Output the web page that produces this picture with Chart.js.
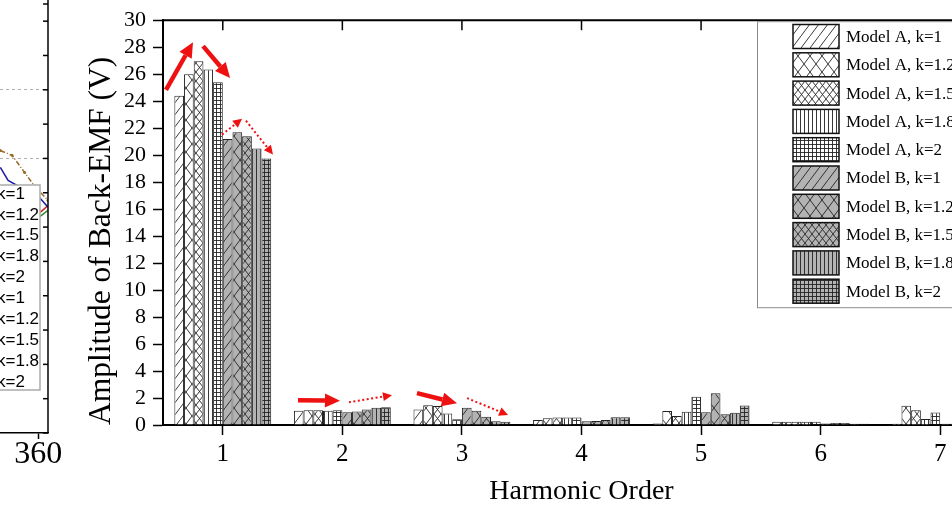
<!DOCTYPE html>
<html>
<head>
<meta charset="utf-8">
<script src="https://cdn.jsdelivr.net/npm/chart.js@4.4.0/dist/chart.umd.min.js"></script>
<style>
  html, body { margin: 0; padding: 0; background: #fff; overflow: hidden; }
  #wrap { position: relative; width: 952px; height: 518px; overflow: hidden; }
  #left { position: absolute; left: -352px; top: 0; }
  #main { position: absolute; left: 0; top: 0; }
</style>
</head>
<body>
<div id="wrap">
  <canvas id="left" width="440" height="518"></canvas>
  <canvas id="main" width="1000" height="518"></canvas>
</div>
<script>
// DATA
const harmonics = ['1', '2', '3', '4', '5', '6', '7'];
const kValues = ['1', '1.2', '1.5', '1.8', '2'];
const yTicks = { min: 0, max: 30, step: 2 };

// amplitude (V) per harmonic, one row per k
const modelA = [
  [24.4, 1.05, 1.15, 0.37, 0.12, 0.25, 0.10],
  [26.0, 1.10, 1.47, 0.50, 1.03, 0.25, 1.42],
  [26.95, 1.10, 1.40, 0.55, 0.66, 0.25, 1.10],
  [26.35, 1.05, 0.86, 0.55, 0.98, 0.25, 0.44],
  [25.4, 1.10, 0.42, 0.55, 2.09, 0.25, 0.93]
];
const modelB = [
  [21.2, 0.95, 1.28, 0.27, 0.95, 0.12, 0.10],
  [21.7, 1.00, 1.05, 0.30, 2.35, 0.15, 0.10],
  [21.4, 1.15, 0.61, 0.37, 0.80, 0.15, 0.10],
  [20.5, 1.28, 0.27, 0.57, 0.90, 0.10, 0.10],
  [19.75, 1.32, 0.25, 0.57, 1.45, 0.10, 0.10]
];

// trend arrows, in (harmonic, volts)
const arrows = [
  { from: [0.525, 24.83], to: [0.751, 28.37], dotted: false },
  { from: [0.835, 28.08], to: [1.061, 25.72], dotted: false },
  { from: [0.994, 21.52], to: [1.161, 22.70], dotted: true },
  { from: [1.194, 22.55], to: [1.420, 20.04], dotted: true },
  { from: [1.629, 1.84], to: [1.980, 1.79], dotted: false },
  { from: [2.055, 1.69], to: [2.415, 2.21], dotted: true },
  { from: [2.624, 2.36], to: [2.959, 1.62], dotted: false },
  { from: [3.043, 1.99], to: [3.386, 0.74], dotted: true }
];

// neighbouring figure (only its right edge is in view)
const leftLabels = ['k=1', 'k=1.2', 'k=1.5', 'k=1.8', 'k=2', 'k=1', 'k=1.2', 'k=1.5', 'k=1.8', 'k=2'];
const leftBlue = [[321, 7.74], [329, 7.36], [362, 6.84], [370, 6.58]];
const leftBrown = [[321, 8.23], [333, 8.09], [346, 7.59], [356, 7.2], [370, 6.78]];
const leftRed = [[362, 6.43], [370, 6.63]];
const leftGreen = [[362, 6.31], [370, 6.49]];

const SERIF = 'Liberation Serif';
const patterns = ['diag', 'cross', 'dcross', 'vert', 'grid'];
const GRAY = '#b3b3b3';

function makePattern(kind, bg) {
  const sizes = { diag: [9, 12], cross: [12, 16], dcross: [7, 9], vert: [4, 4], grid: [4, 4] };
  const [w, h] = sizes[kind];
  const c = document.createElement('canvas');
  c.width = w; c.height = h;
  const g = c.getContext('2d');
  g.fillStyle = bg;
  g.fillRect(0, 0, w, h);
  g.strokeStyle = '#222';
  g.lineWidth = 0.9;
  g.beginPath();
  if (kind === 'diag' || kind === 'cross' || kind === 'dcross') {
    g.moveTo(0, h); g.lineTo(w, 0);
  }
  if (kind === 'cross' || kind === 'dcross') {
    g.moveTo(0, 0); g.lineTo(w, h);
  }
  if (kind === 'vert' || kind === 'grid') {
    g.moveTo(0.5, 0); g.lineTo(0.5, h);
  }
  if (kind === 'grid') {
    g.moveTo(0, 0.5); g.lineTo(w, 0.5);
  }
  g.stroke();
  return g.createPattern(c, 'repeat');
}

const datasets = [];
modelA.forEach((vals, i) => datasets.push({
  label: 'Model A, k=' + kValues[i], data: vals,
  backgroundColor: makePattern(patterns[i], '#fff')
}));
modelB.forEach((vals, i) => datasets.push({
  label: 'Model B, k=' + kValues[i], data: vals,
  backgroundColor: makePattern(patterns[i], GRAY)
}));
datasets.forEach(d => {
  d.borderColor = '#222';
  d.borderWidth = 1;
  d.categoryPercentage = 0.81;
  d.barPercentage = 1.0;
});

function drawArrow(ctx, x1, y1, x2, y2, dotted) {
  const ang = Math.atan2(y2 - y1, x2 - x1);
  const hl = dotted ? 9 : 15, hw = dotted ? 4.5 : 7;
  const bx = x2 - hl * Math.cos(ang), by = y2 - hl * Math.sin(ang);
  ctx.strokeStyle = '#ee1111';
  ctx.fillStyle = '#ee1111';
  ctx.lineWidth = dotted ? 2 : 4.5;
  ctx.setLineDash(dotted ? [2, 2.5] : []);
  ctx.beginPath(); ctx.moveTo(x1, y1); ctx.lineTo(bx, by); ctx.stroke();
  ctx.setLineDash([]);
  ctx.beginPath();
  ctx.moveTo(x2, y2);
  ctx.lineTo(bx - hw * Math.sin(ang), by + hw * Math.cos(ang));
  ctx.lineTo(bx + hw * Math.sin(ang), by - hw * Math.cos(ang));
  ctx.closePath(); ctx.fill();
}

// frame, arrows and boxed legend
const extras = {
  id: 'extras',
  afterDatasetsDraw(chart) {
    const { ctx, chartArea: a, scales: { x, y } } = chart;
    ctx.save();
    ctx.strokeStyle = '#000';
    ctx.lineWidth = 2;
    ctx.beginPath(); ctx.moveTo(a.left - 1, a.top); ctx.lineTo(a.right, a.top); ctx.stroke();
    ctx.lineWidth = 1.5;
    x.ticks.forEach((t, i) => {
      const px = x.getPixelForTick(i);
      ctx.beginPath(); ctx.moveTo(px, a.top); ctx.lineTo(px, a.top + 10); ctx.stroke();
    });

    arrows.forEach(ar => drawArrow(ctx,
      x.getPixelForValue(ar.from[0] - 1), y.getPixelForValue(ar.from[1]),
      x.getPixelForValue(ar.to[0] - 1), y.getPixelForValue(ar.to[1]), ar.dotted));

    // legend
    const bx = 757, by = a.top + 1, bh = 286;
    ctx.fillStyle = '#fff';
    ctx.fillRect(bx, by, a.right - bx, bh);
    ctx.strokeStyle = '#8c8c8c';
    ctx.lineWidth = 1;
    ctx.strokeRect(bx + 0.5, by + 0.5, a.right - bx, bh);
    ctx.font = '17px "' + SERIF + '"';
    ctx.textBaseline = 'middle';
    chart.data.datasets.forEach((d, i) => {
      const cy = 36.5 + i * 28.3;
      ctx.fillStyle = d.backgroundColor;
      ctx.fillRect(793, cy - 12, 46, 24);
      ctx.strokeStyle = '#111';
      ctx.lineWidth = 1.5;
      ctx.strokeRect(793, cy - 12, 46, 24);
      ctx.fillStyle = '#000';
      ctx.fillText(d.label, 846, cy + 1);
    });
    ctx.restore();
  }
};

new Chart(document.getElementById('main'), {
  type: 'bar',
  data: { labels: harmonics, datasets },
  options: {
    responsive: false,
    animation: false,
    layout: { padding: { left: 0, right: 0, top: 18, bottom: 0 } },
    plugins: { legend: { display: false }, tooltip: { enabled: false } },
    scales: {
      x: {
        offset: true,
        grid: { offset: false, drawOnChartArea: false, tickLength: 10, tickWidth: 1.5, tickColor: '#000' },
        border: { width: 2, color: '#000' },
        ticks: { font: { family: SERIF, size: 25 }, color: '#000', padding: 4 },
        title: { display: true, text: 'Harmonic Order', color: '#000',
                 font: { family: SERIF, size: 28 }, padding: { top: 0, bottom: 10 } },
        afterFit: s => { s.height = 93; }
      },
      y: {
        min: yTicks.min, max: yTicks.max,
        grid: { drawOnChartArea: false, tickLength: 10, tickWidth: 1.5, tickColor: '#000' },
        border: { width: 2, color: '#000' },
        ticks: { stepSize: yTicks.step, autoSkip: false, font: { family: SERIF, size: 22 }, color: '#000', padding: 7 },
        title: { display: true, text: 'Amplitude of Back-EMF (V)', color: '#000', align: 'start',
                 font: { family: SERIF, size: 31.5 }, padding: { top: 83, bottom: 0 } },
        afterFit: s => { s.width = 163; }
      }
    }
  },
  plugins: [extras]
});

// left neighbour: right border, inward ticks and clipped legend
const leftFrame = {
  id: 'leftFrame',
  afterDraw(chart) {
    const { ctx, chartArea: a, scales: { y } } = chart;
    ctx.save();
    ctx.strokeStyle = '#000';
    ctx.lineWidth = 1.5;
    ctx.beginPath(); ctx.moveTo(a.right, 0); ctx.lineTo(a.right, a.bottom); ctx.stroke();
    y.ticks.forEach((t, i) => {
      const py = y.getPixelForTick(i);
      ctx.beginPath(); ctx.moveTo(a.right, py); ctx.lineTo(a.right - 5, py); ctx.stroke();
    });
    const lx = 252, lr = 392, ly = 185, lb = 390;
    ctx.fillStyle = '#fff';
    ctx.fillRect(lx, ly, lr - lx, lb - ly);
    ctx.strokeStyle = '#aaa';
    ctx.lineWidth = 1.5;
    ctx.strokeRect(lx, ly, lr - lx, lb - ly);
    ctx.fillStyle = '#000';
    ctx.font = '17px "Liberation Sans"';
    ctx.textBaseline = 'middle';
    leftLabels.forEach((t, i) => ctx.fillText(t, 349, 194 + i * 20.9));
    ctx.restore();
  }
};

const toPts = arr => arr.map(p => ({ x: p[0], y: p[1] }));
new Chart(document.getElementById('left'), {
  type: 'line',
  data: {
    datasets: [
      { data: toPts(leftBrown), borderColor: '#9a6a2a', borderWidth: 1.5, borderDash: [5, 2, 1, 2], pointRadius: 1.5, pointBackgroundColor: '#9a6a2a', pointBorderWidth: 0 },
      { data: toPts(leftBlue), borderColor: '#1c1ca0', borderWidth: 1.5, pointRadius: 0 },
      { data: toPts(leftRed), borderColor: '#cc2222', borderWidth: 1.5, pointRadius: 0 },
      { data: toPts(leftGreen), borderColor: '#2a8a2a', borderWidth: 1.5, pointRadius: 0 }
    ]
  },
  options: {
    responsive: false,
    animation: false,
    layout: { padding: { left: 0, top: 0, bottom: 0, right: 40 } },
    plugins: { legend: { display: false }, tooltip: { enabled: false } },
    scales: {
      x: {
        type: 'linear', min: 0, max: 370,
        ticks: { stepSize: 90, includeBounds: false, font: { family: SERIF, size: 32, lineHeight: 1 }, color: '#000', padding: 0 },
        grid: { drawOnChartArea: false, tickLength: 6, tickColor: '#000', tickWidth: 1.5 },
        border: { width: 1.5, color: '#000' },
        afterFit: s => { s.height = 85; }
      },
      y: {
        min: 0, max: 12.5,
        ticks: { display: false, stepSize: 1 },
        grid: { drawTicks: false, color: c => (c.tick && (c.tick.value === 8 || c.tick.value === 10)) ? '#b0b0b0' : 'rgba(0,0,0,0)' },
        border: { display: false, dash: [3, 3] },
        afterFit: s => { s.width = 40; }
      }
    }
  },
  plugins: [leftFrame]
});
</script>
</body>
</html>
